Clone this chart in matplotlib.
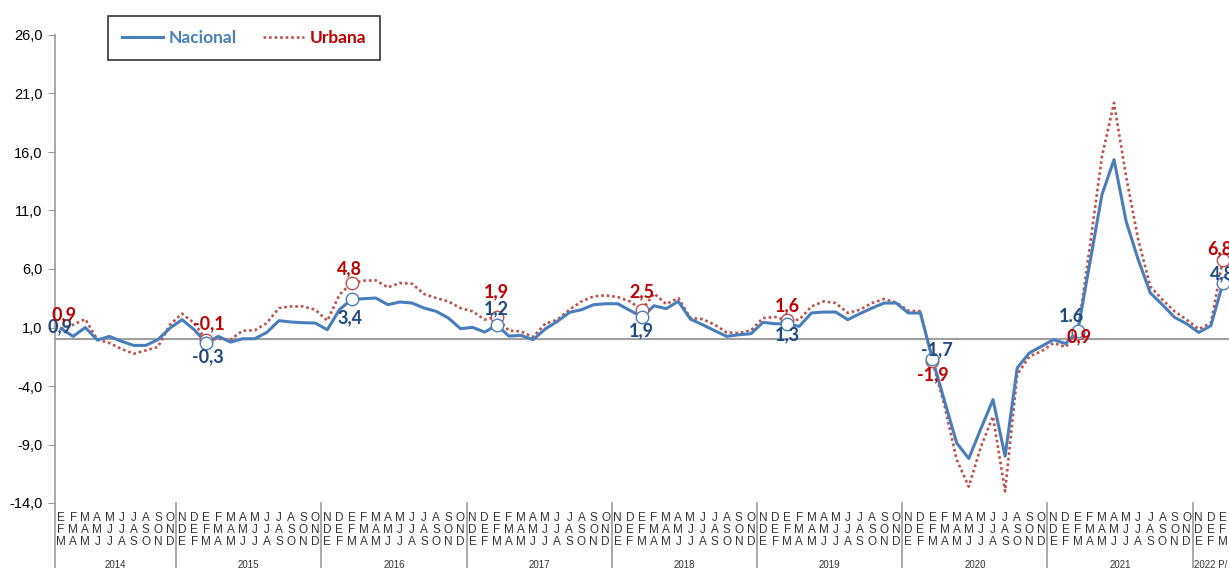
import numpy as np
import matplotlib.pyplot as plt

# Trimestres moviles (E-F-M 2014 ... E-F-M 2022)
meses = "EFMAMJJASOND"
anios = ["2014", "2015", "2016", "2017", "2018", "2019", "2020", "2021", "2022 P/"]
n_por_anio = [10, 12, 12, 12, 12, 12, 12, 12, 3]

nacional = [
    0.9, 0.24, 1.0, -0.07, 0.24, -0.18, -0.53, -0.53, -0.04, 0.95,
    1.67, 0.81, -0.3, 0.24, -0.25, 0.04, 0.04, 0.58, 1.58, 1.47, 1.41, 1.38,
    0.81, 2.52, 3.4, 3.46, 3.52, 2.95, 3.18, 3.09, 2.66, 2.38, 1.81, 0.9,
    1.01, 0.61, 1.2, 0.27, 0.33, -0.04, 0.87, 1.52, 2.29, 2.52, 2.95, 3.03,
    3.03, 2.46, 1.9, 2.86, 2.61, 3.23, 1.72, 1.24, 0.73, 0.24, 0.38, 0.47,
    1.44, 1.32, 1.3, 1.1, 2.24, 2.32, 2.32, 1.67, 2.18, 2.66, 3.09, 3.09,
    2.24, 2.24, -1.7, -5.3, -8.87, -10.2, -7.65, -5.17, -10.0, -2.46, -1.18, -0.61,
    -0.04, -0.38, 0.7, 6.5, 12.35, 15.34, 10.07, 6.8, 3.95, 2.95, 1.87, 1.32,
    0.58, 1.15, 4.8,
]
urbana = [
    0.9, 1.24, 1.72, -0.04, -0.33, -0.84, -1.24, -0.96, -0.67, 1.24,
    2.18, 1.38, -0.1, 0.04, -0.04, 0.73, 0.76, 1.38, 2.66, 2.8, 2.8, 2.52,
    1.58, 3.8, 4.8, 5.0, 5.03, 4.43, 4.8, 4.74, 3.86, 3.52, 3.23, 2.66,
    2.38, 1.67, 1.9, 0.73, 0.67, 0.19, 1.32, 1.67, 2.52, 3.23, 3.66, 3.75,
    3.6, 3.23, 2.5, 3.9, 3.0, 3.52, 1.81, 1.72, 1.24, 0.58, 0.52, 0.76,
    1.81, 1.9, 1.6, 1.67, 2.8, 3.23, 3.09, 2.24, 2.52, 3.09, 3.43, 3.14,
    2.44, 2.38, -1.9, -5.7, -10.3, -12.6, -9.2, -6.6, -13.0, -3.03, -1.47, -1.04,
    -0.33, -0.67, 0.5, 7.9, 15.6, 20.2, 13.9, 8.5, 4.5, 3.38, 2.38, 1.67,
    0.87, 1.38, 6.8,
]

# puntos marcados (E-F-M de cada anio) y sus etiquetas
idx_marca = [0, 12, 24, 36, 48, 60, 72, 84, 96]
etiq_nac = ["0,9", "-0,3", "3,4", "1,2", "1,9", "1,3", "-1,7", "1.6", "4,8"]
etiq_urb = ["0,9", "-0,1", "4,8", "1,9", "2,5", "1,6", "-1,9", "0,9", "6,8"]
# desplazamiento de las etiquetas en pixeles
off_nac = [(-1, 2), (2, -14), (-2, -18), (0, 16), (-1, -14), (0, -11), (4, 9), (-6, 15), (0, 9)]
off_urb = [(3, 14), (3, 17), (-2, 14), (0, 25), (0, 18), (0, 15), (0, -13), (1, -3), (-3, 11)]

azul = "#4a7ebb"
rojo = "#c0504d"
azul_txt = "#1f497d"
rojo_txt = "#c00000"

x = np.arange(len(nacional))

fig = plt.figure(figsize=(12.29, 5.68), dpi=100)
ax = fig.add_axes([55 / 1229, 65 / 568, 1174 / 1229, 468 / 568])

ax.axhline(0, color="#a0a0a0", lw=1.5, zorder=1)
ax.plot(x, urbana, color=rojo, lw=1.9, ls=(0, (1, 1.1)), zorder=2)
ax.plot(x, nacional, color=azul, lw=2.2, zorder=3)

m = np.array(idx_marca[1:])
ax.plot(m, np.array(urbana)[m], ls="none", marker="o", ms=9, mfc="white", mec=rojo, mew=1, zorder=4)
ax.plot(m, np.array(nacional)[m], ls="none", marker="o", ms=9, mfc="white", mec=azul, mew=1, zorder=4)

for k, i in enumerate(idx_marca):
    ax.annotate(etiq_nac[k], (i, nacional[i]), xytext=off_nac[k], textcoords="offset pixels",
                ha="center", va="center", color=azul_txt, fontsize=13, fontweight="bold",
                family="Lato", zorder=5, annotation_clip=False)
    ax.annotate(etiq_urb[k], (i, urbana[i]), xytext=off_urb[k], textcoords="offset pixels",
                ha="center", va="center", color=rojo_txt, fontsize=13, fontweight="bold",
                family="Lato", zorder=5, annotation_clip=False)

ax.set_xlim(-0.5, len(x) - 0.5)
ax.set_ylim(-14, 26)
yt = np.arange(-14, 27, 5)
ax.set_yticks(yt)
ax.set_yticklabels([f"{v:.1f}".replace(".", ",") for v in yt], family="Liberation Sans", fontsize=10.5)
ax.tick_params(axis="y", length=5, color="#999999", pad=4)
ax.set_xticks([])
for s in ["top", "right", "bottom", "left"]:
    ax.spines[s].set_visible(False)

tr = ax.get_xaxis_transform()
# eje vertical prolongado hasta abajo
ax.plot([-0.5, -0.5], [-0.139, 1.0], transform=tr, color="#999999", lw=1.2, clip_on=False)

# etiquetas de los trimestres
for i in x:
    for r, yy in enumerate([-0.032, -0.0577, -0.0833]):
        ax.text(i, yy, meses[(i + r) % 12], transform=tr, ha="center", va="center",
                fontsize=8.5, family="Liberation Sans", color="#333333")

# separadores y anios
ini = 0
for a, n in zip(anios, n_por_anio):
    ax.text(ini + n / 2 - 0.5, -0.122, a, transform=tr, ha="center", va="top",
            fontsize=7, family="Liberation Sans", color="#333333")
    ini += n
    if ini < len(x):
        ax.plot([ini - 0.5, ini - 0.5], [-0.139, 0], transform=tr, color="#999999", lw=1.2, clip_on=False)

# leyenda
h1, = ax.plot([], [], color=azul, lw=2.2)
h2, = ax.plot([], [], color=rojo, lw=1.9, ls=(0, (1, 1.1)))
leg = fig.legend([h1, h2], ["Nacional", "Urbana"], loc="center",
                 bbox_to_anchor=(244 / 1229, 1 - 38 / 568), ncol=2, fancybox=False,
                 edgecolor="black", handlelength=2.4, handletextpad=0.3, columnspacing=1.5,
                 borderpad=0.8, borderaxespad=0,
                 prop={"family": "Lato", "weight": "bold", "size": 12.5})
leg.get_frame().set_linewidth(1.2)
leg.get_texts()[0].set_color(azul)
leg.get_texts()[1].set_color(rojo_txt)

fig.savefig("out.png", dpi=100)
